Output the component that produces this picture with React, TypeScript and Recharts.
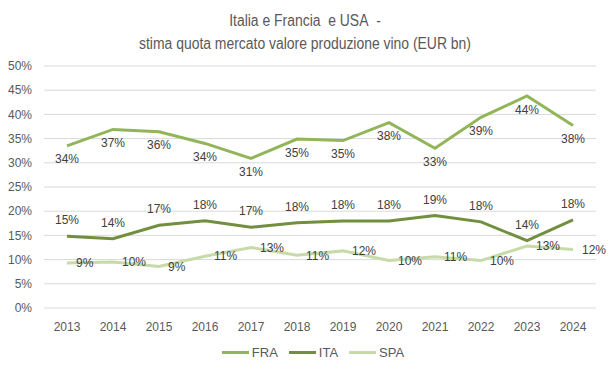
import React from "react";
import { LineChart, Line, XAxis, YAxis, CartesianGrid, LabelList } from "recharts";

const years = ["2013","2014","2015","2016","2017","2018","2019","2020","2021","2022","2023","2024"];
const fra = [33.5, 36.9, 36.4, 34.0, 30.9, 34.9, 34.6, 38.3, 33.0, 39.4, 43.8, 37.7];
const ita = [14.8, 14.3, 17.1, 18.0, 16.7, 17.6, 18.0, 18.0, 19.1, 17.8, 13.9, 18.2];
const spa = [9.3, 9.5, 8.6, 10.7, 12.5, 10.9, 11.8, 9.8, 10.6, 9.8, 12.8, 12.1];
const yTicks = [0, 5, 10, 15, 20, 25, 30, 35, 40, 45, 50];

const series = [
  { key: "FRA", color: "#93B55A", pos: "bottom", offset: 9 },
  { key: "ITA", color: "#718F3E", pos: "top", offset: 12 },
  { key: "SPA", color: "#C6DBA8", pos: "right", offset: 9 },
];

const data = years.map((y, i) => ({ year: y, FRA: fra[i], ITA: ita[i], SPA: spa[i] }));

const fmt = (v: any) => `${Math.round(Number(v))}%`;
const narrow = "'Liberation Sans Narrow', 'Liberation Sans', Arial, sans-serif";

export default function App() {
  return (
    <div style={{ position: "absolute", left: 0, top: 0, width: 610, height: 374, background: "#fff" }}>
      <div style={{ position: "absolute", top: 9, width: 610, textAlign: "center", fontFamily: narrow, fontSize: 16, color: "#595959", lineHeight: "23px" }}>
        <div style={{ transform: "scaleX(0.87)" }}>Italia e Francia&nbsp; e USA&nbsp; -</div>
        <div style={{ transform: "scaleX(0.87)" }}>stima quota mercato valore produzione vino (EUR bn)</div>
      </div>
      <LineChart width={610} height={374} data={data} margin={{ top: 66, right: 14, bottom: 36, left: 4 }}>
        <CartesianGrid horizontal vertical={false} stroke="#d9d9d9" />
        <XAxis dataKey="year" padding={{ left: 23, right: 23 }} axisLine={false} tickLine={false} tick={{ fill: "#595959", fontSize: 12, fontFamily: "'Liberation Sans', Arial, sans-serif" }} height={30} tickMargin={8} />
        <YAxis domain={[0, 50]} ticks={yTicks} tickFormatter={(v) => `${v}%`} axisLine={false} tickLine={false} width={40} tickMargin={6} tick={{ fill: "#595959", fontSize: 12, fontFamily: "'Liberation Sans', Arial, sans-serif" }} />
        {series.map((s) => (
          <Line key={s.key} dataKey={s.key} stroke={s.color} strokeWidth={3} dot={false} isAnimationActive={false} type="linear">
            <LabelList dataKey={s.key} position={s.pos as any} offset={s.offset} formatter={fmt} fill="#404040" fontSize={12} fontFamily="'Liberation Sans', Arial, sans-serif" />
          </Line>
        ))}
      </LineChart>
      <div style={{ position: "absolute", top: 345, left: 8, width: 610, display: "flex", justifyContent: "center", gap: 11, fontFamily: narrow, fontSize: 13, color: "#595959" }}>
        {series.map((s) => (
          <div key={s.key} style={{ display: "flex", alignItems: "center" }}>
            <div style={{ width: 27, height: 3, background: s.color, marginRight: 3 }} />
            <span>{s.key}</span>
          </div>
        ))}
      </div>
    </div>
  );
}
